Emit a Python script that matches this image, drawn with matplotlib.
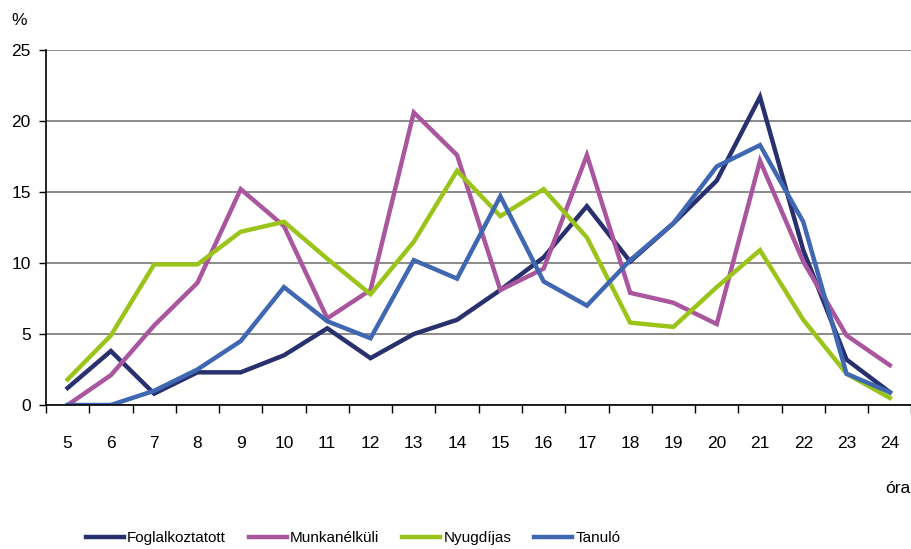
import numpy as np
import matplotlib.pyplot as plt

plt.rcParams['font.family'] = ['Liberation Sans', 'DejaVu Sans']

# Hours of the day
hours = list(range(5, 25))

# Share of people by hour (%)
foglalkoztatott = [1.2, 3.8, 0.8, 2.3, 2.3, 3.5, 5.4, 3.3, 5.0, 6.0, 8.1, 10.4,
                   14.0, 10.1, 12.8, 15.8, 21.7, 10.9, 3.2, 0.9]
munkanelkuli = [0.0, 2.1, 5.6, 8.6, 15.2, 12.6, 6.1, 8.1, 20.6, 17.6, 8.1, 9.6,
                17.6, 7.9, 7.2, 5.7, 17.2, 10.1, 4.9, 2.8]
nyugdijas = [1.8, 4.9, 9.9, 9.9, 12.2, 12.9, 10.3, 7.8, 11.5, 16.5, 13.3, 15.2,
             11.8, 5.8, 5.5, 8.3, 10.9, 6.0, 2.2, 0.5]
tanulo = [0.0, 0.0, 1.0, 2.5, 4.5, 8.3, 5.9, 4.7, 10.2, 8.9, 14.7, 8.7,
          7.0, 10.2, 12.8, 16.8, 18.3, 12.9, 2.2, 0.9]

series = [
    ('Foglalkoztatott', foglalkoztatott, '#28306e'),
    ('Munkanélküli', munkanelkuli, '#a9569f'),
    ('Nyugdíjas', nyugdijas, '#9bc41b'),
    ('Tanuló', tanulo, '#3f67b2'),
]

fs = 12.5

fig = plt.figure(figsize=(9.12, 5.49), dpi=100)
ax = fig.add_axes([0.0504, 0.2623, 0.949, 0.6466])

for name, vals, col in series:
    ax.plot(hours, vals, color=col, lw=3.2, label=name, solid_joinstyle='miter')

ax.set_xlim(4.5, 24.5)
ax.set_ylim(0, 25)
ax.set_yticks(np.arange(0, 26, 5))
ax.set_xticks(hours)
ax.set_xticks(np.arange(4.5, 25, 1), minor=True)
ax.tick_params(axis='x', which='major', length=0, pad=22, labelsize=fs)
ax.tick_params(axis='x', which='minor', length=6, width=1, direction='out')
ax.tick_params(axis='y', length=5, width=1, labelsize=fs, pad=6)

ax.grid(axis='y', color='#777777', lw=1.2)
ax.set_axisbelow(True)
for s in ['top', 'right']:
    ax.spines[s].set_visible(False)
ax.spines['left'].set_linewidth(1.2)
ax.spines['bottom'].set_linewidth(1.2)

fig.text(0.021, 0.963, '%', fontsize=fs, ha='center', va='center')
fig.text(0.998, 0.111, 'óra', fontsize=fs, ha='right', va='center')

fig.legend(loc='center', bbox_to_anchor=(0.387, 0.02), ncol=4, frameon=False,
           fontsize=11, handlelength=2.5, columnspacing=1.5, handletextpad=0.2)

fig.savefig('out.png', dpi=100)
